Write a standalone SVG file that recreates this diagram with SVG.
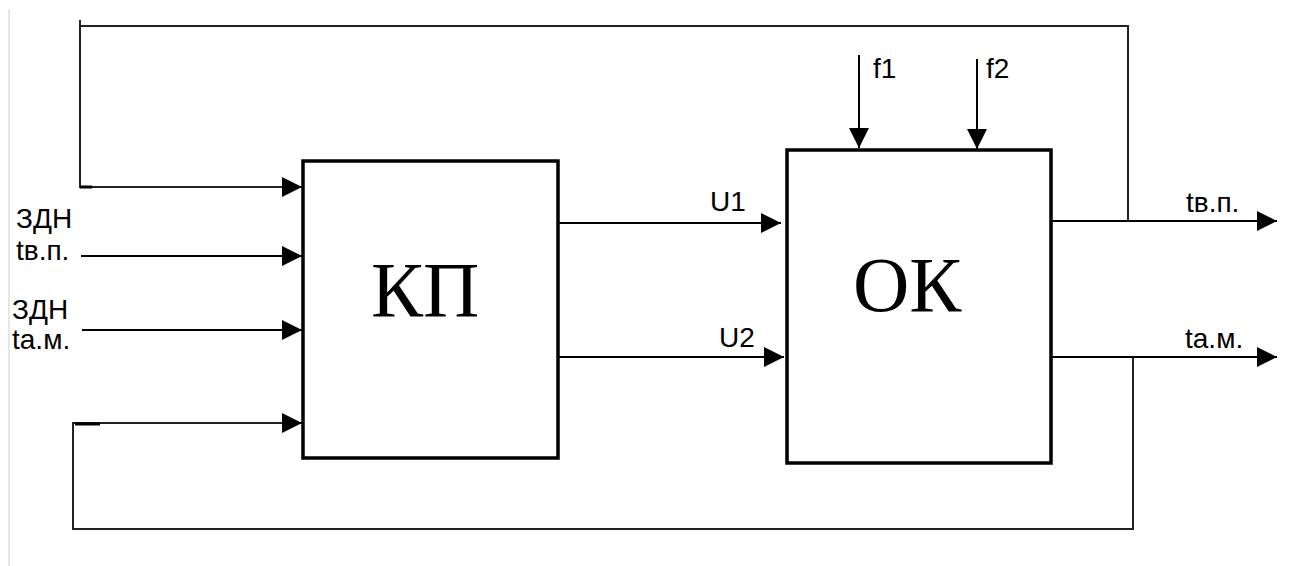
<svg xmlns="http://www.w3.org/2000/svg" width="1302" height="566" viewBox="0 0 1302 566">
<defs>
<marker id="ah" markerWidth="20" markerHeight="20" refX="20" refY="10" orient="auto" markerUnits="userSpaceOnUse">
<path d="M0,0 L20,10 L0,20 Z" fill="#000"/>
</marker>
<style>
.box{fill:#fff;stroke:#000;stroke-width:3.5}
.ln{fill:none;stroke:#000;stroke-width:2}
.fb{fill:none;stroke:#222;stroke-width:2}
.lbl{font-family:"Liberation Sans",Arial,sans-serif;font-size:28px;fill:#000}
.big{font-family:"Liberation Serif","Times New Roman",serif;font-size:78px;fill:#000}
</style>
</defs>
<rect width="1302" height="566" fill="#fff"/>
<line x1="9" y1="9" x2="9" y2="566" stroke="#e6e6e6" stroke-width="2"/>
<g id="connectors">
<polyline class="fb" points="80,20 80,187 302,187" marker-end="url(#ah)"/>
<line x1="80" y1="187" x2="92" y2="187" stroke="#000" stroke-width="3"/>
<polyline class="fb" points="80,26 1128,26 1128,221"/>
<line class="ln" x1="81" y1="256" x2="302" y2="256" marker-end="url(#ah)"/>
<line class="ln" x1="82" y1="330" x2="302" y2="330" marker-end="url(#ah)"/>
<polyline class="fb" points="1133,357 1133,529 73,529 73,423 302,423" marker-end="url(#ah)"/>
<line x1="75" y1="424" x2="100" y2="424" stroke="#000" stroke-width="3"/>
<line class="ln" x1="558" y1="223" x2="781" y2="223" marker-end="url(#ah)"/>
<line class="ln" x1="558" y1="357" x2="784" y2="357" marker-end="url(#ah)"/>
<line class="ln" x1="859" y1="55" x2="859" y2="148" marker-end="url(#ah)"/>
<line class="ln" x1="977" y1="59" x2="977" y2="149" marker-end="url(#ah)"/>
<line class="ln" x1="1052" y1="221" x2="1277" y2="221" marker-end="url(#ah)"/>
<line class="ln" x1="1052" y1="357" x2="1277" y2="357" marker-end="url(#ah)"/>
</g>
<g id="node-kp">
<rect class="box" x="303" y="161" width="255" height="297"/>
<text class="big" x="371" y="316">КП</text>
</g>
<g id="node-ok">
<rect class="box" x="787" y="150" width="264" height="313"/>
<text class="big" x="853" y="311">ОК</text>
</g>
<g id="labels">
<text class="lbl" x="16" y="228">ЗДН</text>
<text class="lbl" x="16" y="260">tв.п.</text>
<text class="lbl" x="12" y="319">ЗДН</text>
<text class="lbl" x="12" y="349">ta.м.</text>
<text class="lbl" x="710" y="211">U1</text>
<text class="lbl" x="719" y="347">U2</text>
<text class="lbl" x="873" y="78">f1</text>
<text class="lbl" x="986" y="78">f2</text>
<text class="lbl" x="1186" y="212">tв.п.</text>
<text class="lbl" x="1185" y="348">ta.м.</text>
</g>
</svg>
